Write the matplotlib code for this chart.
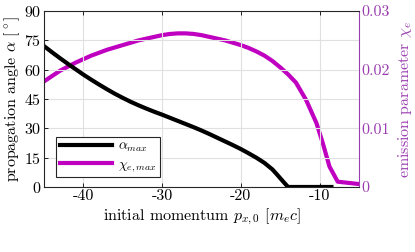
import matplotlib
matplotlib.use("Agg")
import matplotlib.pyplot as plt

plt.rcParams['font.family'] = 'cmr10'
plt.rcParams['mathtext.fontset'] = 'cm'
plt.rcParams['axes.unicode_minus'] = False
plt.rcParams['axes.formatter.use_mathtext'] = True

alpha_x = [-45, -44, -43, -42, -41, -40, -39, -38, -37, -36, -35, -34, -33, -32, -31, -30,
           -29, -28, -27, -26, -25, -24, -23, -22, -21, -20, -19, -18, -17, -16, -15.5, -15, -14.5, -14, -8.5]
alpha_y = [72.1, 69.0, 66.0, 63.1, 60.3, 57.5, 54.9, 52.4, 50.0, 47.7, 45.6, 43.6, 41.8, 40.1, 38.5, 37.0,
           35.4, 33.8, 32.2, 30.6, 28.9, 27.1, 25.2, 23.3, 21.4, 19.4, 17.2, 14.9, 12.3, 9.0, 6.8, 4.5, 2.2, 0, 0]

chi_x = [-45, -44, -43, -42, -41, -40, -39, -38, -37, -36, -35, -34, -33, -32, -31, -30,
         -29, -28, -27, -26, -25, -24, -23, -22, -21, -20, -19, -18, -17, -16, -15, -14, -13,
         -11.7, -10.4, -9.6, -8.75, -7.7, -5]
chi_y = [0.0180, 0.0189, 0.0198, 0.0205, 0.0212, 0.0218, 0.0224, 0.0229, 0.0234, 0.0238, 0.0242, 0.0246,
         0.0250, 0.0253, 0.0256, 0.0259, 0.0261, 0.0262, 0.0262, 0.0261, 0.0259, 0.0256, 0.0253, 0.0250,
         0.0246, 0.0242, 0.0237, 0.0231, 0.0224, 0.0215, 0.0204, 0.0192, 0.0178,
         0.0148, 0.0109, 0.0075, 0.0035, 0.0009, 0.0005]

x_ticks = [-40, -30, -20, -10]
y_ticks = [0, 15, 30, 45, 60, 75, 90]
y2_ticks = [0, 0.01, 0.02, 0.03]
y2_labels = ['0', '0.01', '0.02', '0.03']

purple = '#9a3db0'
fs = 11.5

fig = plt.figure(figsize=(4.15, 2.52), dpi=100)
ax = fig.add_axes([0.106, 0.258, 0.759, 0.698])
ax2 = ax.twinx()

l1, = ax.plot(alpha_x, alpha_y, color='black', lw=3, label=r'$\alpha_{max}$', solid_joinstyle='round')
l2, = ax2.plot(chi_x, chi_y, color='#c000c0', lw=3, label=r'$\chi_{e,max}$', solid_joinstyle='round')

ax.set_xlim(-45, -5)
ax.set_ylim(0, 90)
ax2.set_ylim(0, 0.03)
ax.set_xticks(x_ticks)
ax.set_xticklabels([str(t) for t in x_ticks])
ax.set_yticks(y_ticks)
ax2.set_yticks(y2_ticks)
ax2.set_yticklabels(y2_labels)

ax.grid(True, color='#e0e0e0', lw=0.8)
ax.set_axisbelow(True)
ax.tick_params(axis='both', direction='in', labelsize=fs, top=True, length=3, width=0.6, pad=2)
ax.tick_params(axis='y', right=False)
ax2.tick_params(axis='y', direction='in', labelsize=fs, colors=purple, length=3, width=0.6, pad=2)
for s in ['left', 'bottom', 'top']:
    ax.spines[s].set_color('#262626')
    ax.spines[s].set_linewidth(0.8)
ax2.spines['right'].set_color(purple)
ax2.spines['right'].set_linewidth(0.8)
ax2.spines['left'].set_visible(False)
ax2.spines['top'].set_visible(False)
ax2.spines['bottom'].set_visible(False)
ax.spines['right'].set_visible(False)

ax.set_xlabel(r'initial momentum $p_{x,0}$ $[m_e c]$', fontsize=fs, labelpad=2)
ax.set_ylabel(r'propagation angle $\alpha$ [$^\circ$]', fontsize=fs, labelpad=1)
ax2.set_ylabel(r'emission parameter $\chi_e$', fontsize=fs, color=purple, labelpad=4)

leg = ax.legend(handles=[l1, l2], loc='lower left', bbox_to_anchor=(0.03, 0.04),
                fontsize=10, handlelength=3.8, fancybox=False, framealpha=1,
                edgecolor='#262626', borderpad=0.25, labelspacing=0.25, handletextpad=0.4,
                borderaxespad=0.2)
leg.get_frame().set_linewidth(0.8)
ax.set_zorder(ax2.get_zorder() + 1)
ax.patch.set_visible(False)

fig.savefig('out.png', dpi=100)
